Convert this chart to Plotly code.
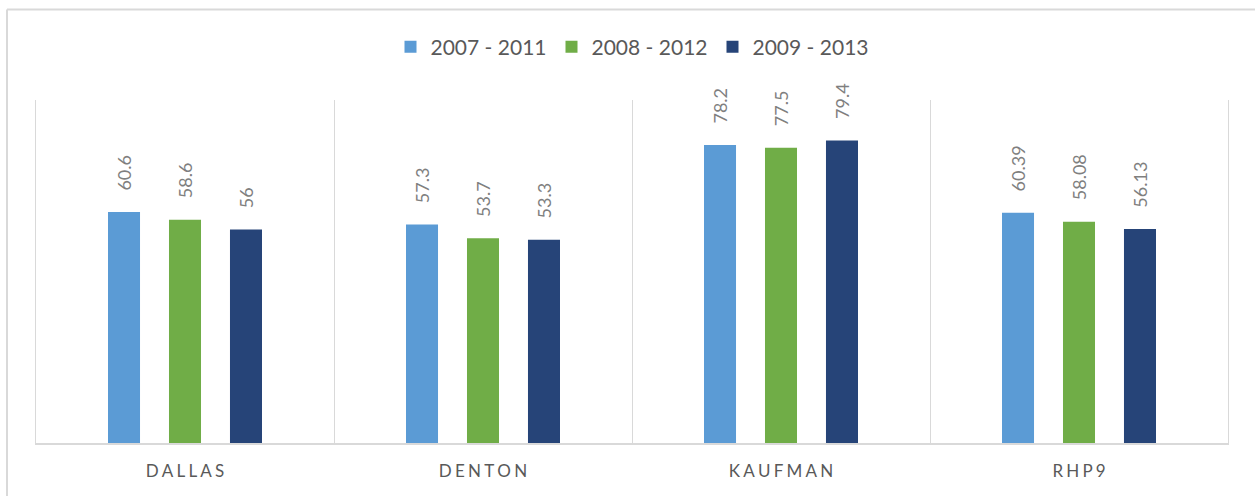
import plotly.graph_objects as go

categories = ["DALLAS", "DENTON", "KAUFMAN", "RHP9"]
series_names = ["2007 - 2011", "2008 - 2012", "2009 - 2013"]
v_2007_2011 = [60.6, 57.3, 78.2, 60.39]
v_2008_2012 = [58.6, 53.7, 77.5, 58.08]
v_2009_2013 = [56, 53.3, 79.4, 56.13]
colors = ["#5B9BD5", "#70AD47", "#264478"]

tick_labels = ["\u2009\u200a".join(list(c)) for c in categories]

W, H = 1255, 496
L, R, T, B = 36, 27, 100, 53

fig = go.Figure()
for name, vals, col in zip(series_names, [v_2007_2011, v_2008_2012, v_2009_2013], colors):
    fig.add_trace(go.Bar(
        x=categories, y=vals, name=name,
        marker=dict(color=col, line=dict(width=0)),
        text=["\u00a0\u00a0\u00a0\u00a0" + str(v) for v in vals], textposition="outside", textangle=-90,
        constraintext="none",
        textfont=dict(family="Lato", size=18, color="#7f7f7f"),
        cliponaxis=False,
    ))

pw, ph = W - L - R, H - T - B
bx0 = (7 - L) / pw
by1 = (H - B - 9.5) / ph
fig.add_shape(type="line", xref="paper", yref="paper", x0=bx0, x1=1.2, y0=by1, y1=by1,
              line=dict(color="#d9d9d9", width=2))
fig.add_shape(type="line", xref="paper", yref="paper", x0=bx0, x1=bx0, y0=by1, y1=-0.3,
              line=dict(color="#d9d9d9", width=2))

fig.update_layout(
    width=W, height=H,
    margin=dict(l=L, r=R, t=T, b=B, autoexpand=False),
    paper_bgcolor="white", plot_bgcolor="white",
    barmode="group", bargap=0.386, bargroupgap=0.475,
    font=dict(family="Lato", color="#595959"),
    legend=dict(orientation="h", x=0.5, xanchor="center", y=1.0 + (T - 47) / ph, yanchor="middle",
                font=dict(size=21, color="#595959"), itemwidth=30, traceorder="normal"),
    xaxis=dict(tickmode="array", tickvals=categories, ticktext=tick_labels,
               tickson="boundaries", showgrid=True, gridcolor="#d9d9d9", gridwidth=1,
               showline=True, linecolor="#d9d9d9", linewidth=2, ticks="", automargin=False,
               ticklabelstandoff=12,
               tickfont=dict(family="Lato", size=17, color="#595959")),
    yaxis=dict(range=[0, 90], showticklabels=False, showgrid=False, zeroline=False,
               showline=True, mirror=True, linecolor="#d9d9d9", linewidth=1, ticks="",
               automargin=False),
)
fig.write_html("out.html", post_script="document.body.style.margin='0';",
               config={"displayModeBar": False})
